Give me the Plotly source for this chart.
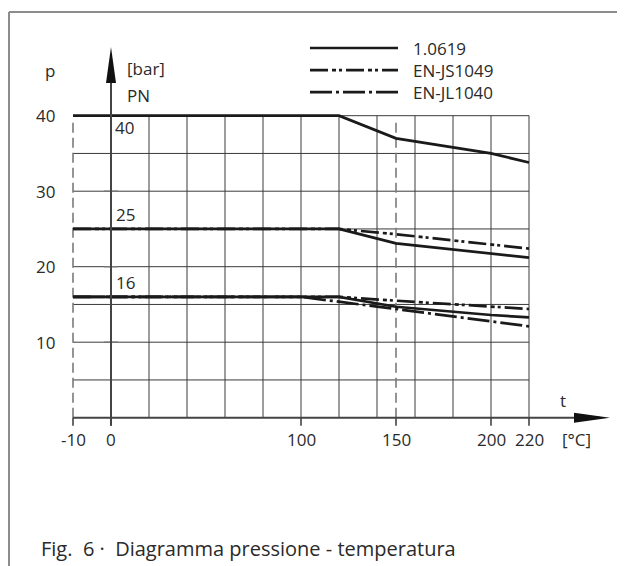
import plotly.graph_objects as go

PAGE_W, PAGE_H = 625, 566
OFF = 8                      # browser body margin around the figure
W, H = PAGE_W - OFF, PAGE_H - OFF

# ---------------- data ----------------
t_1_0619 = [-10, 120, 150, 200, 220]
p_1_0619_pn40 = [40, 40, 37.0, 35.0, 33.8]
p_1_0619_pn25 = [25, 25, 23.1, 21.7, 21.2]
p_1_0619_pn16 = [16, 16, 14.7, 13.6, 13.3]

t_js1049 = [-10, 120, 150, 200, 220]
p_js1049_pn25 = [25, 25, 24.3, 23.0, 22.4]
p_js1049_pn16 = [16, 16, 15.5, 14.7, 14.4]

t_jl1040 = [-10, 100, 150, 200, 220]
p_jl1040_pn16 = [16, 16, 14.4, 12.8, 12.1]

pn_labels = ["40", "25", "16"]
pn_values = [40, 25, 16]

x_tick_vals = [-10, 0, 100, 150, 200, 220]
x_tick_text = ["-10", "0", "100", "150", "200", "220"]
y_tick_vals = [10, 20, 30, 40]
y_tick_text = ["10", "20", "30", "40"]
grid_t = [20, 40, 60, 80, 100, 120, 140, 160, 180, 200, 220]
grid_p = [5, 10, 15, 20, 25, 30, 35, 40]
dashed_t = [-10, 150]

series_names = ["1.0619", "EN-JS1049", "EN-JL1040"]
series_dash = ["solid", "18px,4px,4px,3px,3px,4px", "22px,4px,3px,4px"]

caption = "Fig.  6 ·  Diagramma pressione - temperatura"

# ---------------- scale / layout constants ----------------
X0_PX, X_PER = 111.0 - OFF, 1.9      # fig pixel of t=0, px per degC
Y0_PX, Y_PER = 417.7 - OFF, 7.55     # fig pixel of p=0, px per bar
FONT = "Open Sans"
TXT = "#2a2a2a"
LINE = "#1a1a1a"
GRID = "#3a3a3a"


def pos(t):
    # the -10..0 section is drawn as wide as one 20 K grid cell (schematic break)
    return t if t >= 0 else 2 * t


def dx(px):
    return px / X_PER


def dy(px):
    return px / Y_PER


def page_x(px):          # page pixel -> x data
    return (px - OFF - X0_PX) / X_PER


def page_y(py):          # page pixel -> y data
    return (Y0_PX - (py - OFF)) / Y_PER


x_range = [-X0_PX / X_PER, (W - X0_PX) / X_PER]
y_range = [-(H - Y0_PX) / Y_PER, Y0_PX / Y_PER]

t_min, t_max = min(x_tick_vals), max(x_tick_vals)
p_max = max(grid_p)

fig = go.Figure()


def seg(ts, *ps_list):
    xs, ys = [], []
    for ps in ps_list:
        xs += [pos(t) for t in ts] + [None]
        ys += list(ps) + [None]
    return xs, ys


data_sets = [
    seg(t_1_0619, p_1_0619_pn40, p_1_0619_pn25, p_1_0619_pn16),
    seg(t_js1049, p_js1049_pn25, p_js1049_pn16),
    seg(t_jl1040, p_jl1040_pn16),
]
for name, (xs, ys), dash in zip(series_names, data_sets, series_dash):
    fig.add_trace(go.Scatter(
        x=xs, y=ys, mode="lines", name=name, showlegend=False,
        line=dict(color=LINE, width=2.7, dash=dash),
        connectgaps=False, hoverinfo="skip",
    ))

shapes = []
for t in grid_t:
    shapes.append(dict(type="line", xref="x", yref="y", layer="below",
                       x0=pos(t), x1=pos(t), y0=0, y1=p_max,
                       line=dict(color=GRID, width=1)))
for p in grid_p:
    shapes.append(dict(type="line", xref="x", yref="y", layer="below",
                       x0=pos(t_min), x1=pos(t_max), y0=p, y1=p,
                       line=dict(color=GRID, width=1)))
for t in dashed_t:
    shapes.append(dict(type="line", xref="x", yref="y", layer="below",
                       x0=pos(t), x1=pos(t), y0=0, y1=p_max - dy(5),
                       line=dict(color="#7a7a7a", width=1.6, dash="10px,5px")))
for t in x_tick_vals:
    shapes.append(dict(type="line", xref="x", yref="y",
                       x0=pos(t), x1=pos(t), y0=0, y1=-dy(8),
                       line=dict(color="#444", width=1.6)))
# small tick marks across the y axis
for v in y_tick_vals[:-1]:
    shapes.append(dict(type="line", xref="x", yref="y",
                       x0=-dx(7), x1=dx(7), y0=v, y1=v,
                       line=dict(color="#777", width=1.4)))

# axes with arrows
x_tip = page_x(610)
y_tip = page_y(47)
arrow_len, arrow_half = 36, 5
shapes.append(dict(type="line", xref="x", yref="y",
                   x0=pos(t_min), x1=x_tip - dx(10), y0=0, y1=0,
                   line=dict(color="#444", width=2)))
shapes.append(dict(type="line", xref="x", yref="y",
                   x0=0, x1=0, y0=-dy(8), y1=y_tip - dy(10),
                   line=dict(color="#444", width=2)))
shapes.append(dict(type="path", xref="x", yref="y",
                   path=f"M {x_tip} 0 L {x_tip - dx(arrow_len)} {dy(arrow_half)} "
                        f"L {x_tip - dx(arrow_len)} {-dy(arrow_half)} Z",
                   fillcolor="#111", line=dict(width=0)))
shapes.append(dict(type="path", xref="x", yref="y",
                   path=f"M 0 {y_tip} L {dx(arrow_half)} {y_tip - dy(arrow_len)} "
                        f"L {-dx(arrow_half)} {y_tip - dy(arrow_len)} Z",
                   fillcolor="#111", line=dict(width=0)))

# frame (top and left)
fx, fy = (9 - OFF) / W, 1 - (12 - OFF) / H
shapes.append(dict(type="line", xref="paper", yref="paper",
                   x0=fx, x1=1, y0=fy, y1=fy,
                   line=dict(color="#8c8c8c", width=2)))
shapes.append(dict(type="line", xref="paper", yref="paper",
                   x0=fx, x1=fx, y0=0, y1=fy,
                   line=dict(color="#8c8c8c", width=2)))

# manual legend (long line samples as in the reference)
leg_fs = 17
leg_top = 48.0
leg_step = 1.3 * leg_fs
leg_rows = [leg_top + i * leg_step for i in range(len(series_names))]
for name, dash, ry in zip(series_names, series_dash, leg_rows):
    shapes.append(dict(type="line", xref="x", yref="y",
                       x0=page_x(310), x1=page_x(398), y0=page_y(ry), y1=page_y(ry),
                       line=dict(color=LINE, width=2.7, dash=dash)))

annotations = []
fs = 17


def ann(text, x, y, xref="x", yref="y", xanchor="center", yanchor="middle", size=fs, **kw):
    annotations.append(dict(text=text, x=x, y=y, xref=xref, yref=yref,
                            xanchor=xanchor, yanchor=yanchor, showarrow=False,
                            font=dict(family=FONT, size=size, color=TXT), **kw))


ann("<br>".join(series_names), page_x(411), page_y(leg_rows[1]),
    xanchor="left", size=leg_fs, align="left")
for v, s in zip(x_tick_vals, x_tick_text):
    ann(s, pos(v), -dy(22))
for v, s in zip(y_tick_vals, y_tick_text):
    ann(s, pos(t_min) - dx(16), v, xanchor="right")
for s, v in zip(pn_labels, pn_values):
    if v == max(pn_values):
        ann(s, dx(2), v - dy(12), xanchor="left")
    else:
        ann(s, dx(3), v + dy(14), xanchor="left")
ann("p", page_x(50), page_y(70))
ann("[bar]", page_x(125), page_y(68), xanchor="left")
ann("PN", page_x(125), page_y(95), xanchor="left")
ann("t", page_x(563), page_y(400))
ann("[°C]", page_x(576), -dy(22))
ann(caption, (39 - OFF) / W, 1 - (548 - OFF) / H,
    xref="paper", yref="paper", xanchor="left", size=20)

fig.update_layout(
    width=W, height=H,
    margin=dict(l=0, r=0, t=0, b=0),
    paper_bgcolor="white", plot_bgcolor="white",
    xaxis=dict(range=x_range, visible=False, fixedrange=True),
    yaxis=dict(range=y_range, visible=False, fixedrange=True),
    shapes=shapes, annotations=annotations,
    showlegend=False,
    font=dict(family=FONT),
)

fig.write_html("out.html")
